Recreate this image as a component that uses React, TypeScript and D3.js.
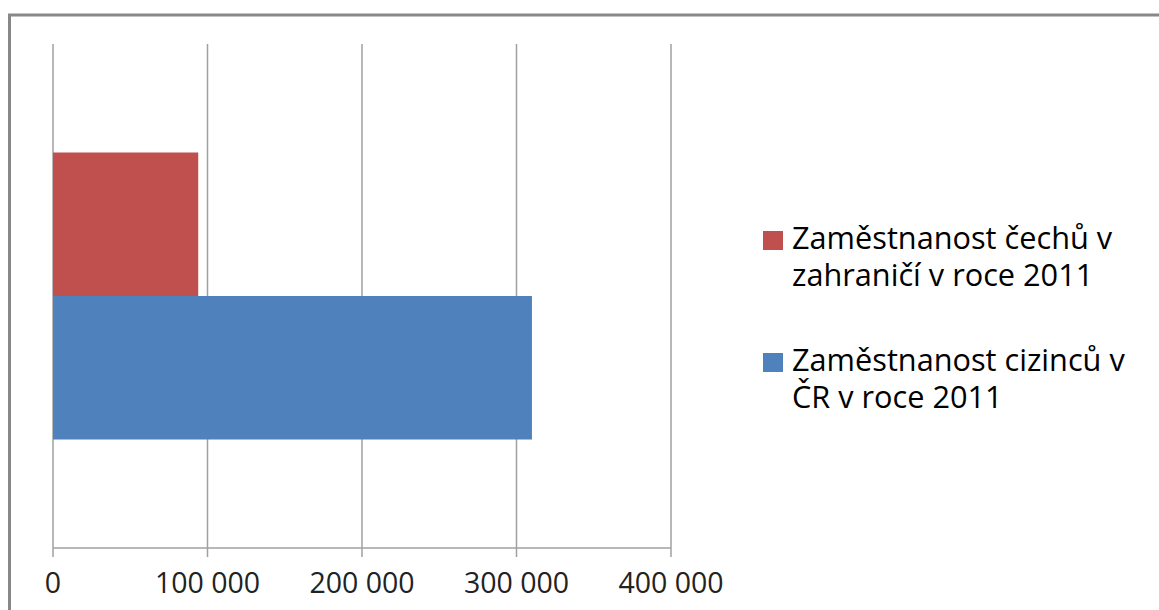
import React from "react";
import * as d3 from "d3";

// data
const categories = ["2011"];
const seriesNames = [
  "Zaměstnanost cizinců v ČR v roce 2011",
  "Zaměstnanost čechů v zahraničí v roce 2011",
];
const seriesValues = [310000, 94000];
const seriesColors = ["#4F81BD", "#C0504D"];
// legend shows the series in reverse order, wrapped on two lines
const legendLines = [
  ["Zaměstnanost čechů v", "zahraničí v roce 2011"],
  ["Zaměstnanost cizinců v", "ČR v roce 2011"],
];
const xTicks = [0, 100000, 200000, 300000, 400000];

const W = 1159;
const H = 610;
const plot = { left: 53, right: 671, top: 44, bottom: 548 };
const font = "'Open Sans', 'Liberation Sans', sans-serif";
const gridColor = "#A0A0A0";

const locale = d3.formatLocale({
  decimal: ",",
  thousands: " ",
  grouping: [3],
  currency: ["", ""],
});
const fmt = locale.format(",d");

export default function App() {
  const x = d3.scaleLinear().domain([0, 400000]).range([plot.left, plot.right]);

  const y = d3
    .scaleBand()
    .domain(categories)
    .range([plot.top, plot.bottom])
    .paddingInner(0)
    .paddingOuter(0.378);

  // first series sits at the bottom, as in Excel
  const yInner = d3
    .scaleBand()
    .domain([...seriesNames].reverse())
    .range([0, y.bandwidth()]);

  const legendColors = [...seriesColors].reverse();

  return (
    <svg
      width={W}
      height={H}
      style={{ position: "absolute", left: 0, top: 0, background: "#fff" }}
    >
      <rect x={9.5} y={15} width={1160} height={620} fill="#fff" stroke="#888" strokeWidth={3} />

      {/* gridlines */}
      {xTicks.map((t) => (
        <line
          key={"g" + t}
          x1={x(t)}
          x2={x(t)}
          y1={plot.top}
          y2={plot.bottom + 9}
          stroke={gridColor}
          strokeWidth={1.5}
        />
      ))}

      {/* bars */}
      {categories.map((c) =>
        seriesNames.map((s, i) => (
          <rect
            key={c + s}
            x={x(0)}
            y={(y(c) ?? 0) + (yInner(s) ?? 0)}
            width={x(seriesValues[i]) - x(0)}
            height={yInner.bandwidth()}
            fill={seriesColors[i]}
          />
        ))
      )}

      {/* x axis */}
      <line
        x1={plot.left}
        x2={plot.right}
        y1={plot.bottom}
        y2={plot.bottom}
        stroke={gridColor}
        strokeWidth={1.5}
      />
      {xTicks.map((t) => (
        <text
          key={"t" + t}
          x={x(t)}
          y={593}
          textAnchor="middle"
          fontFamily={font}
          fontSize={28.5}
          fill="#222"
        >
          {fmt(t)}
        </text>
      ))}

      {/* legend */}
      {legendLines.map((lines, i) => {
        const base = 249 + i * 122;
        return (
          <g key={"l" + i}>
            <rect x={763} y={base - 18} width={20} height={19} fill={legendColors[i]} />
            {lines.map((ln, j) => (
              <text
                key={j}
                x={792}
                y={base + j * 37}
                fontFamily={font}
                fontSize={30.7}
                fill="#000"
              >
                {ln}
              </text>
            ))}
          </g>
        );
      })}
    </svg>
  );
}
